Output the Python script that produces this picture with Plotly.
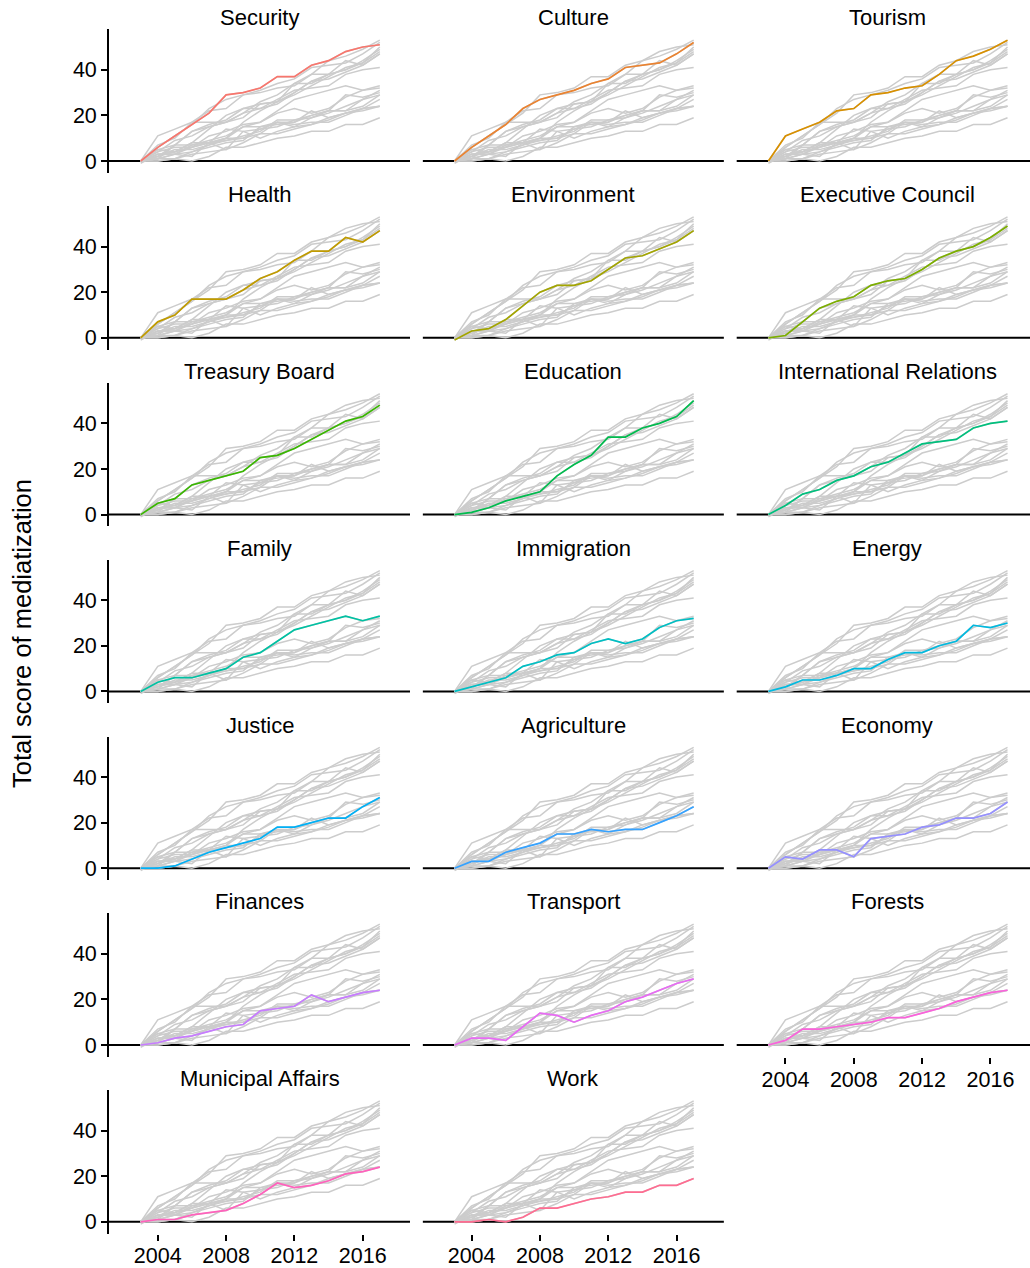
import plotly.graph_objects as go

years = list(range(2003, 2018))

ministries = [
    "Security", "Culture", "Tourism",
    "Health", "Environment", "Executive Council",
    "Treasury Board", "Education", "International Relations",
    "Family", "Immigration", "Energy",
    "Justice", "Agriculture", "Economy",
    "Finances", "Transport", "Forests",
    "Municipal Affairs", "Work",
]

security = [0, 6, 11, 16, 21, 29, 30, 32, 37, 37, 42, 44, 48, 50, 51]
culture = [0, 6, 11, 16, 23, 27, 29, 31, 34, 36, 41, 42, 43, 47, 52]
tourism = [0, 11, 14, 17, 22, 23, 29, 30, 32, 33, 38, 44, 46, 49, 53]
health = [0, 7, 10, 17, 17, 17, 21, 26, 29, 34, 38, 38, 44, 42, 47]
environment = [-1, 3, 4, 8, 14, 20, 23, 23, 25, 30, 35, 36, 39, 42, 47]
executive_council = [0, 1, 7, 13, 16, 18, 23, 25, 26, 30, 35, 38, 40, 44, 49]
treasury_board = [0, 5, 7, 13, 15, 17, 19, 25, 26, 29, 33, 37, 41, 43, 48]
education = [0, 1, 3, 6, 8, 10, 17, 22, 26, 34, 34, 38, 40, 43, 50]
international_relations = [0, 4, 9, 11, 15, 17, 21, 23, 27, 31, 32, 33, 38, 40, 41]
family = [0, 4, 6, 6, 8, 10, 15, 17, 22, 27, 29, 31, 33, 31, 33]
immigration = [0, 2, 4, 6, 11, 13, 16, 17, 21, 23, 21, 23, 28, 31, 32]
energy = [0, 2, 5, 5, 7, 10, 10, 14, 17, 17, 20, 22, 29, 28, 30]
justice = [0, 0, 1, 4, 7, 9, 11, 13, 18, 18, 20, 22, 22, 27, 31]
agriculture = [0, 3, 3, 7, 9, 11, 15, 15, 17, 16, 17, 17, 20, 23, 27]
economy = [0, 5, 4, 8, 8, 5, 13, 14, 15, 18, 19, 22, 22, 24, 29]
finances = [0, 1, 3, 4, 6, 8, 9, 15, 16, 17, 22, 19, 21, 23, 24]
transport = [0, 3, 3, 2, 8, 14, 13, 10, 13, 15, 19, 21, 24, 27, 29]
forests = [0, 2, 7, 7, 8, 9, 10, 12, 12, 14, 16, 19, 21, 23, 24]
municipal_affairs = [0, 1, 1, 3, 4, 5, 8, 12, 17, 15, 16, 18, 21, 22, 24]
work = [0, 0, 1, 0, 2, 6, 6, 8, 10, 11, 13, 13, 16, 16, 19]

series = [
    security, culture, tourism, health, environment, executive_council,
    treasury_board, education, international_relations, family, immigration,
    energy, justice, agriculture, economy, finances, transport, forests,
    municipal_affairs, work,
]

colors = [
    "#F8766D", "#EA8331", "#D89000", "#C09B00", "#A3A500", "#7CAE00",
    "#39B600", "#00BB4E", "#00BF7D", "#00C1A3", "#00BFC4", "#00BAE0",
    "#00B0F6", "#35A2FF", "#9590FF", "#C77CFF", "#E76BF3", "#FA62DB",
    "#FF62BC", "#FF6C91",
]

x_ticks = [2004, 2008, 2012, 2016]
y_ticks = [0, 20, 40]

# ---- geometry (pixels) ----
W, H = 1030, 1268
COL_LEFT = 109.0
COL_PITCH = 313.85
PANEL_W = 301.0
ROW_TOP = 29.3
ROW_PITCH = 176.8
PANEL_H = 143.5
ZERO_OFF = 131.7      # from panel top to y=0
PX_PER_YEAR = 17.08
PX_PER_UNIT = 2.28
X_START = 2001.144

FONT = "Liberation Sans, Arial, Helvetica, sans-serif"
TICK_SIZE = 21.5
STRIP_SIZE = 22
TITLE_SIZE = 25.5

fig = go.Figure()
layout = dict(
    width=W, height=H,
    margin=dict(l=0, r=0, t=0, b=0),
    paper_bgcolor="white", plot_bgcolor="white",
    showlegend=False,
    font=dict(family=FONT, size=TICK_SIZE, color="black"),
)
annotations = []
shapes = []

n = len(ministries)
bottom_panels = {17, 18, 19}

for i in range(n):
    r, c = divmod(i, 3)
    ax = "" if i == 0 else str(i + 1)
    left_px = COL_LEFT + c * COL_PITCH
    right_px = min(left_px + PANEL_W, W)
    top_px = ROW_TOP + r * ROW_PITCH
    bot_px = top_px + PANEL_H
    x_range = [X_START, X_START + (right_px - left_px) / PX_PER_YEAR]
    y_range = [-(PANEL_H - ZERO_OFF) / PX_PER_UNIT, ZERO_OFF / PX_PER_UNIT]

    xa = dict(
        domain=[left_px / W, right_px / W],
        range=x_range, anchor="y" + ax,
        showgrid=False, zeroline=False, showline=False,
        fixedrange=True,
    )
    if i in bottom_panels:
        xa.update(tickmode="array", tickvals=x_ticks, ticks="outside",
                  ticklen=6, tickwidth=1.5, tickcolor="black",
                  showticklabels=True, ticklabelstandoff=-3,
                  tickfont=dict(size=TICK_SIZE, color="black"))
    else:
        xa.update(showticklabels=False, ticks="")
    ya = dict(
        domain=[1 - bot_px / H, 1 - top_px / H],
        range=y_range, anchor="x" + ax,
        showgrid=False, zeroline=False,
        fixedrange=True,
    )
    if c == 0:
        ya.update(showline=True, linecolor="black", linewidth=1.8,
                  tickmode="array", tickvals=y_ticks, ticks="outside",
                  ticklen=6, tickwidth=1.5, tickcolor="black",
                  showticklabels=True,
                  tickfont=dict(size=TICK_SIZE, color="black"))
    else:
        ya.update(showline=False, showticklabels=False, ticks="")
    layout["xaxis" + ax] = xa
    layout["yaxis" + ax] = ya

    for j in range(n):
        fig.add_trace(go.Scatter(
            x=years, y=series[j], mode="lines",
            line=dict(color="#CCCCCC", width=1.5),
            xaxis="x" + ax, yaxis="y" + ax, hoverinfo="skip",
        ))
    fig.add_trace(go.Scatter(
        x=years, y=series[i], mode="lines", name=ministries[i],
        line=dict(color=colors[i], width=1.7),
        xaxis="x" + ax, yaxis="y" + ax,
    ))

    shapes.append(dict(
        type="line", xref="x" + ax + " domain", yref="y" + ax,
        x0=0, x1=1, y0=0, y1=0, layer="below",
        line=dict(color="black", width=2),
    ))
    annotations.append(dict(
        text=ministries[i], xref="paper", yref="paper",
        x=(left_px + PANEL_W / 2) / W, y=1 - (top_px - 11.5) / H,
        xanchor="center", yanchor="middle", showarrow=False,
        font=dict(size=STRIP_SIZE, color="black", family=FONT),
    ))

annotations.append(dict(
    text="Total score of mediatization", xref="paper", yref="paper",
    x=22 / W, y=1 - 634 / H, xanchor="center", yanchor="middle",
    textangle=-90, showarrow=False,
    font=dict(size=TITLE_SIZE, color="black", family=FONT),
))

layout["annotations"] = annotations
layout["shapes"] = shapes
fig.update_layout(**layout)
fig.write_html(
    "out.html",
    config={"displayModeBar": False},
    post_script="document.body.style.margin='0';document.body.style.padding='0';",
)
